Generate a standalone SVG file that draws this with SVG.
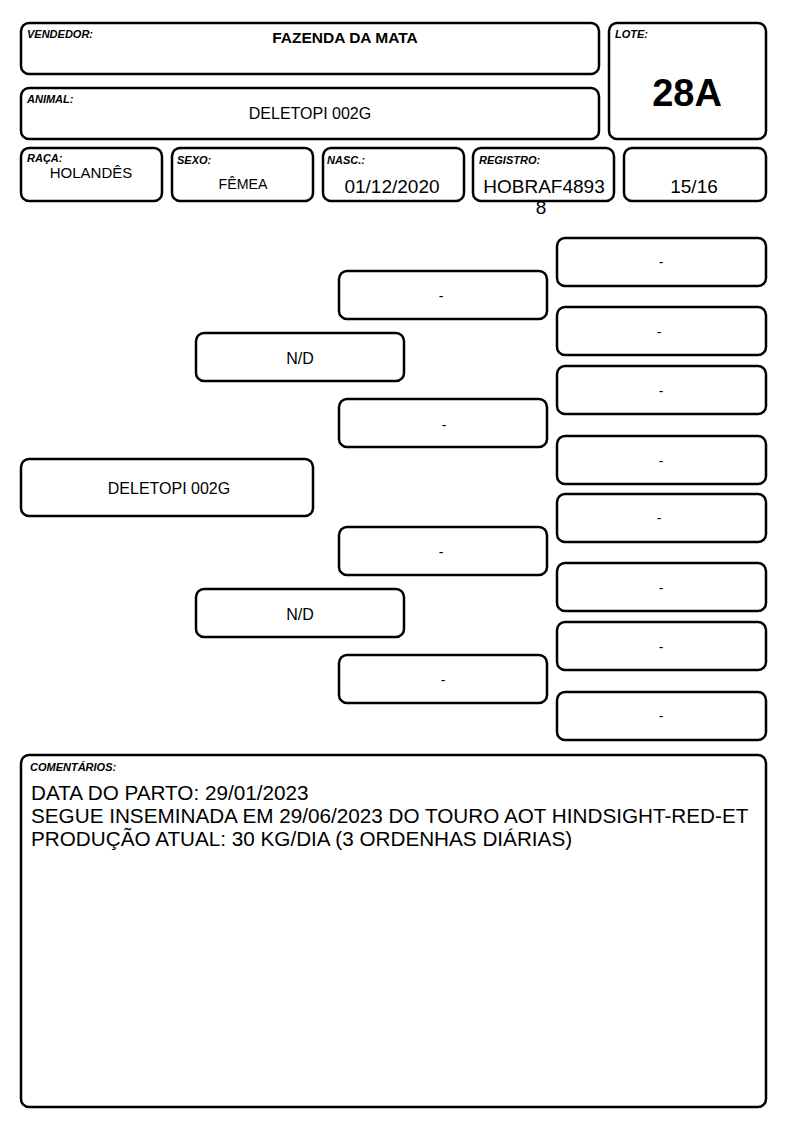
<svg xmlns="http://www.w3.org/2000/svg" width="794" height="1123" viewBox="0 0 794 1123">
<style>
.b{fill:#fff;stroke:#000;stroke-width:2.5}
.lbl{font-family:"Liberation Sans",Arial,sans-serif;font-size:11px;font-weight:bold;font-style:italic;fill:#000}
.v{font-family:"Liberation Sans",Arial,sans-serif;font-size:16px;fill:#000;text-anchor:middle}
.d{font-family:"Liberation Sans",Arial,sans-serif;font-size:14px;fill:#000;text-anchor:middle}
.c{font-family:"Liberation Sans",Arial,sans-serif;font-size:20.7px;fill:#000}
.big{font-size:19px}
</style>
<rect width="794" height="1123" fill="#fff"/>
<g id="vendedor"><rect class="b" x="21" y="23" width="578" height="51" rx="8"/><text class="lbl" x="27" y="38">VENDEDOR:</text><text class="v" x="345" y="43" style="font-weight:bold;font-size:15.5px">FAZENDA DA MATA</text></g>
<g id="animal"><rect class="b" x="21" y="88" width="578" height="51" rx="8"/><text class="lbl" x="27" y="103">ANIMAL:</text><text class="v" x="310" y="119">DELETOPI 002G</text></g>
<g id="lote"><rect class="b" x="609" y="23" width="157" height="116" rx="8"/><text class="lbl" x="615" y="38">LOTE:</text><text class="v" x="687" y="106" style="font-weight:bold;font-size:38px">28A</text></g>
<g id="raca"><rect class="b" x="21" y="148" width="141" height="53" rx="8"/><text class="lbl" x="27" y="162">RAÇA:</text><text class="v" x="91" y="178" style="font-size:15px">HOLANDÊS</text></g>
<g id="sexo"><rect class="b" x="172" y="148" width="141" height="53" rx="8"/><text class="lbl" x="177" y="164">SEXO:</text><text class="v" x="243" y="189" style="font-size:14.2px">FÊMEA</text></g>
<g id="nasc"><rect class="b" x="323" y="148" width="141" height="53" rx="8"/><text class="lbl" x="327" y="164">NASC.:</text><text class="v big" x="392" y="193">01/12/2020</text></g>
<g id="registro"><rect class="b" x="473" y="148" width="141" height="53" rx="8"/><text class="lbl" x="479" y="164">REGISTRO:</text><text class="v big" x="544" y="193">HOBRAF4893</text><text class="v big" x="541" y="214">8</text></g>
<g id="grau"><rect class="b" x="624" y="148" width="142" height="53" rx="8"/><text class="v big" x="694" y="193">15/16</text></g>
<g id="connectors"></g>
<g id="animal-node"><rect class="b" x="21" y="459" width="292" height="57" rx="8"/><text class="v" x="169" y="494">DELETOPI 002G</text></g>
<g id="pai"><rect class="b" x="196" y="333" width="208" height="48" rx="8"/><text class="v" x="300" y="364">N/D</text></g>
<g id="mae"><rect class="b" x="196" y="589" width="208" height="48" rx="8"/><text class="v" x="300" y="620">N/D</text></g>
<g id="avo1"><rect class="b" x="339" y="271" width="208" height="48" rx="8"/><text class="d" x="441" y="301">-</text></g>
<g id="avo2"><rect class="b" x="339" y="399" width="208" height="48" rx="8"/><text class="d" x="444" y="430">-</text></g>
<g id="avo3"><rect class="b" x="339" y="527" width="208" height="48" rx="8"/><text class="d" x="441" y="557">-</text></g>
<g id="avo4"><rect class="b" x="339" y="655" width="208" height="48" rx="8"/><text class="d" x="443" y="685">-</text></g>
<g id="bis1"><rect class="b" x="557" y="238" width="209" height="48" rx="8"/><text class="d" x="661" y="267">-</text></g>
<g id="bis2"><rect class="b" x="557" y="307" width="209" height="48" rx="8"/><text class="d" x="659" y="337">-</text></g>
<g id="bis3"><rect class="b" x="557" y="366" width="209" height="48" rx="8"/><text class="d" x="661" y="396">-</text></g>
<g id="bis4"><rect class="b" x="557" y="436" width="209" height="48" rx="8"/><text class="d" x="661" y="466">-</text></g>
<g id="bis5"><rect class="b" x="557" y="494" width="209" height="48" rx="8"/><text class="d" x="659" y="523">-</text></g>
<g id="bis6"><rect class="b" x="557" y="563" width="209" height="48" rx="8"/><text class="d" x="661" y="593">-</text></g>
<g id="bis7"><rect class="b" x="557" y="622" width="209" height="48" rx="8"/><text class="d" x="661" y="652">-</text></g>
<g id="bis8"><rect class="b" x="557" y="692" width="209" height="48" rx="8"/><text class="d" x="661" y="721">-</text></g>
<g id="comentarios"><rect class="b" x="21" y="755" width="745" height="352" rx="8"/><text class="lbl" x="30" y="771">COMENTÁRIOS:</text>
<text class="c" x="31" y="800">DATA DO PARTO: 29/01/2023</text>
<text class="c" x="31" y="823">SEGUE INSEMINADA EM 29/06/2023 DO TOURO AOT HINDSIGHT-RED-ET</text>
<text class="c" x="31" y="846">PRODUÇÃO ATUAL: 30 KG/DIA (3 ORDENHAS DIÁRIAS)</text></g>
</svg>
